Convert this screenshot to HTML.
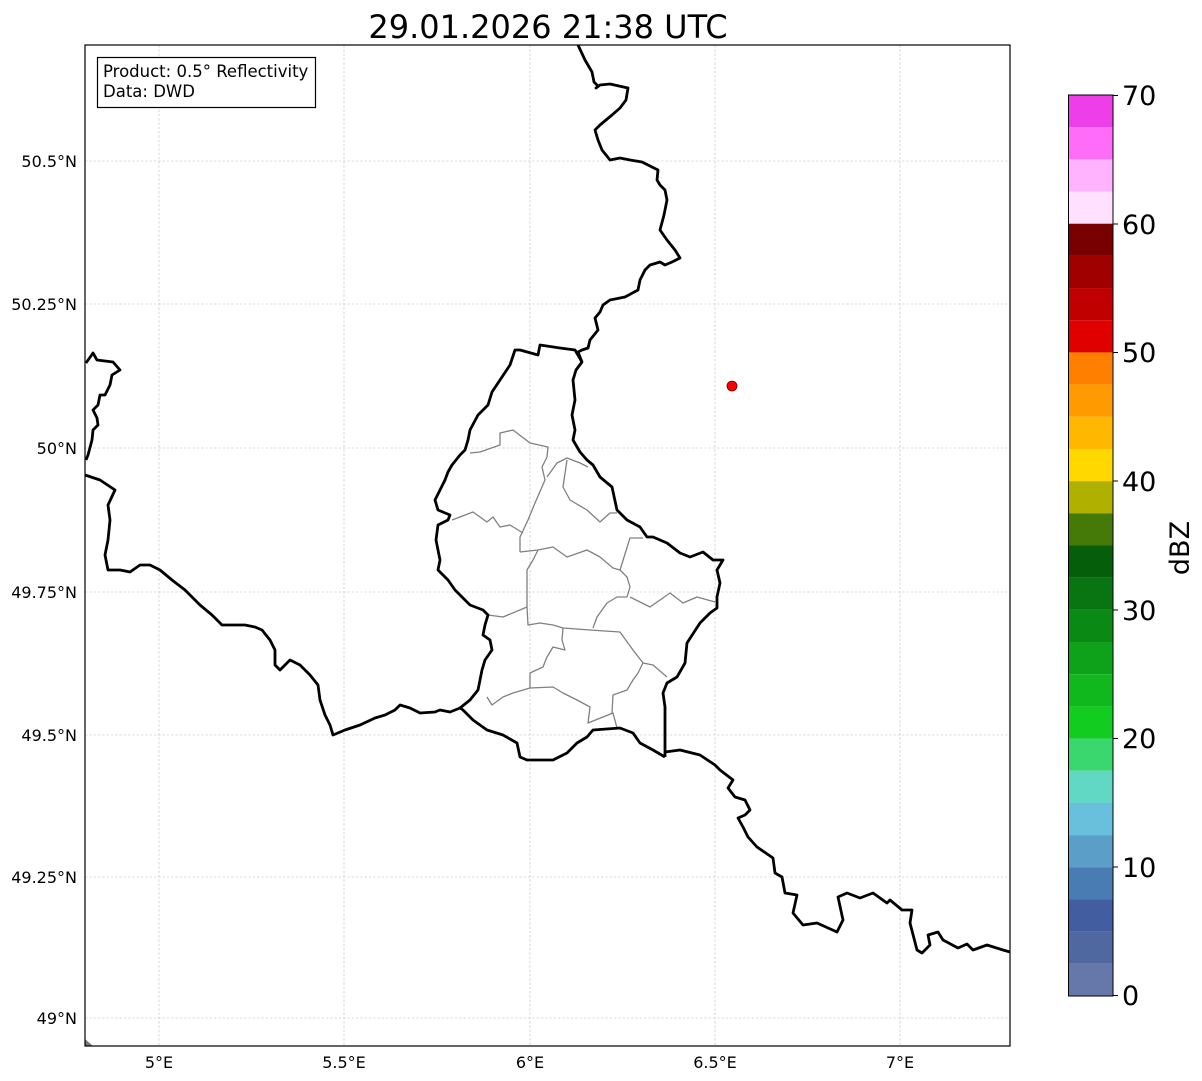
<!DOCTYPE html>
<html><head><meta charset="utf-8"><style>
html,body{margin:0;padding:0;background:#fff;}
svg{display:block;font-family:"DejaVu Sans","Liberation Sans",sans-serif;}
</style></head><body>
<svg width="1202" height="1081" viewBox="0 0 1202 1081" xmlns="http://www.w3.org/2000/svg">
<rect width="1202" height="1081" fill="#fff"/>
<text x="548" y="38" font-size="32" text-anchor="middle">29.01.2026 21:38 UTC</text>
<g stroke="#bdbdbd" stroke-width="0.6" stroke-dasharray="2.5,1.8">
<line x1="159" y1="45" x2="159" y2="1046"/><line x1="344" y1="45" x2="344" y2="1046"/>
<line x1="530" y1="45" x2="530" y2="1046"/><line x1="715" y1="45" x2="715" y2="1046"/>
<line x1="900" y1="45" x2="900" y2="1046"/>
<line x1="85" y1="161" x2="1010" y2="161"/><line x1="85" y1="304" x2="1010" y2="304"/>
<line x1="85" y1="448" x2="1010" y2="448"/><line x1="85" y1="592" x2="1010" y2="592"/>
<line x1="85" y1="735" x2="1010" y2="735"/><line x1="85" y1="877" x2="1010" y2="877"/>
<line x1="85" y1="1018" x2="1010" y2="1018"/>
</g>
<g fill="none" stroke="#808080" stroke-width="1.3" stroke-linejoin="round">
<polyline points="470,453 480,452 500,445 500,433 513,430 530,443 548,447 547,457 542,467 545,480 535,503 528,520 520,537 520,552"/>
<polyline points="452,520 473,512 487,522 493,517 500,527 510,525 523,533"/>
<polyline points="547,477 557,463 567,458 580,463 588,467"/>
<polyline points="567,460 563,487 570,500 587,510 600,522 610,513 617,513"/>
<polyline points="520,552 538,550 553,547 567,557 587,550 600,557 613,568 620,570 630,538 643,538"/>
<polyline points="620,570 627,577 630,587 627,597 617,597 607,603 597,617 593,628"/>
<polyline points="630,597 650,607 670,593 683,603 697,597 715,602"/>
<polyline points="538,550 533,560 527,570 527,583 527,607 528,625 540,623 553,625 563,628 590,630 620,632 633,650 643,663 653,665 667,677"/>
<polyline points="527,607 503,617 488,615"/>
<polyline points="563,628 562,640 565,650 553,647 547,657 543,667 530,673 530,688 513,693 503,697 492,705 487,697"/>
<polyline points="530,688 553,687 563,693 577,700 590,707 588,723 613,713 617,728"/>
<polyline points="612,713 613,695 627,690 633,680 638,673 643,663"/>
</g>
<g fill="none" stroke="#000" stroke-width="2.8" stroke-linejoin="round">
<polyline points="578,45 585,60 592,72 594,82 598,86 596,88 600,85 610,84 628,88 626,100 620,108 612,115 600,125 595,130 598,140 600,145 602,150 610,160 620,158 630,160 642,162 658,170 657,180 660,185 665,190 667,200 664,215 660,230 667,240 675,250 680,258 672,262 665,265 660,262 650,265 645,270 640,280 638,290 625,297 610,300 603,305 600,312 595,318 598,330 590,340 588,348 582,350 578,352 582,362 576,370 573,380 575,400 572,415 575,430 573,440 580,452 587,460 593,465 600,477 612,487 617,510 627,520 640,527 647,537 653,537 667,543 680,553 690,557 703,552 713,560 723,560 717,570 720,583 717,597 717,608 710,613 700,623 687,643 685,663 677,677 667,683 663,693 665,707 665,757"/>
<polyline points="665,752 680,750 700,755 715,765 720,770 733,780 728,788 735,797 745,800 750,810 745,815 738,818 743,827 748,837 757,847 773,858 775,873 782,877 785,893 797,895 793,913 803,925 817,923 837,932 843,920 838,897 847,893 860,898 873,893 887,903 890,900 902,910 912,910 910,923 917,950 922,953 930,945 928,935 938,932 943,940 958,948 967,944 973,950 987,945 1003,950 1010,952"/>
<polyline points="582,362 575,350 560,348 540,345 538,355 520,350 515,350 510,365 500,380 492,392 488,405 478,415 470,430 468,440 465,450 460,455 452,465 448,472 445,480 440,490 435,500 438,510 450,515 448,520 438,525 436,540 440,560 438,570 448,580 455,590 465,600 470,605 483,610 488,615 485,625 483,635 490,640 492,650 485,660 482,670 480,680 478,690 470,700 460,708 463,710 473,720 487,730 503,735 517,743 520,757 527,760 537,760 553,760 567,753 577,743 587,737 593,730 620,728 633,733 640,743 653,750 665,757"/>
<polyline points="460,708 450,712 440,710 435,712 420,713 410,708 400,705 395,710 385,715 375,718 360,725 345,730 333,735 330,725 325,715 320,700 318,685 310,675 300,665 290,660 280,670 275,665 275,650 270,640 262,630 255,627 245,625 235,625 222,625 212,615 200,605 185,590 172,580 160,570 150,565 140,565 130,572 120,570 108,570 105,555 108,540 110,520 108,505 115,490 100,480 85,475"/>
<polyline points="86,363 93,353 97,360 113,362 120,370 112,375 110,385 105,395 100,395 98,405 93,410 97,418 98,425 93,430 92,440 88,455 86,460"/>
</g>
<polygon points="85,1039 93,1046 85,1046" fill="#777"/>
<circle cx="732" cy="386" r="5" fill="#f00" stroke="#600" stroke-width="0.8"/>
<rect x="85" y="45" width="925" height="1001" fill="none" stroke="#000" stroke-width="1.2"/>
<rect x="97.5" y="57.5" width="218" height="50" fill="#fff" stroke="#000" stroke-width="1.2"/>
<text x="103" y="77" font-size="16.5">Product: 0.5° Reflectivity</text>
<text x="103" y="97" font-size="16.5">Data: DWD</text>
<g font-size="16" text-anchor="end">
<text x="77" y="167">50.5°N</text><text x="77" y="310">50.25°N</text>
<text x="77" y="454">50°N</text><text x="77" y="598">49.75°N</text>
<text x="77" y="741">49.5°N</text><text x="77" y="883">49.25°N</text>
<text x="77" y="1024">49°N</text>
</g>
<g font-size="16" text-anchor="middle">
<text x="159" y="1068">5°E</text><text x="344" y="1068">5.5°E</text>
<text x="530" y="1068">6°E</text><text x="715" y="1068">6.5°E</text>
<text x="900" y="1068">7°E</text>
</g>
<g>
<rect x="1068.5" y="95.00" width="44.5" height="32.2" fill="#ee3ee9"/>
<rect x="1068.5" y="127.18" width="44.5" height="32.2" fill="#ff6cf7"/>
<rect x="1068.5" y="159.36" width="44.5" height="32.2" fill="#ffb3ff"/>
<rect x="1068.5" y="191.54" width="44.5" height="32.2" fill="#ffe0ff"/>
<rect x="1068.5" y="223.71" width="44.5" height="32.2" fill="#780000"/>
<rect x="1068.5" y="255.89" width="44.5" height="32.2" fill="#a00000"/>
<rect x="1068.5" y="288.07" width="44.5" height="32.2" fill="#c00000"/>
<rect x="1068.5" y="320.25" width="44.5" height="32.2" fill="#e00000"/>
<rect x="1068.5" y="352.43" width="44.5" height="32.2" fill="#ff7f00"/>
<rect x="1068.5" y="384.61" width="44.5" height="32.2" fill="#ff9a00"/>
<rect x="1068.5" y="416.79" width="44.5" height="32.2" fill="#ffb700"/>
<rect x="1068.5" y="448.96" width="44.5" height="32.2" fill="#ffd800"/>
<rect x="1068.5" y="481.14" width="44.5" height="32.2" fill="#b0b000"/>
<rect x="1068.5" y="513.32" width="44.5" height="32.2" fill="#467a08"/>
<rect x="1068.5" y="545.50" width="44.5" height="32.2" fill="#055e0a"/>
<rect x="1068.5" y="577.68" width="44.5" height="32.2" fill="#087412"/>
<rect x="1068.5" y="609.86" width="44.5" height="32.2" fill="#0a8a14"/>
<rect x="1068.5" y="642.04" width="44.5" height="32.2" fill="#0da21a"/>
<rect x="1068.5" y="674.21" width="44.5" height="32.2" fill="#10b81e"/>
<rect x="1068.5" y="706.39" width="44.5" height="32.2" fill="#12cc20"/>
<rect x="1068.5" y="738.57" width="44.5" height="32.2" fill="#3ad66e"/>
<rect x="1068.5" y="770.75" width="44.5" height="32.2" fill="#60d8c4"/>
<rect x="1068.5" y="802.93" width="44.5" height="32.2" fill="#68c0dc"/>
<rect x="1068.5" y="835.11" width="44.5" height="32.2" fill="#5b9fc8"/>
<rect x="1068.5" y="867.29" width="44.5" height="32.2" fill="#4a7cb4"/>
<rect x="1068.5" y="899.46" width="44.5" height="32.2" fill="#425ea0"/>
<rect x="1068.5" y="931.64" width="44.5" height="32.2" fill="#5068a0"/>
<rect x="1068.5" y="963.82" width="44.5" height="32.18" fill="#6677aa"/>
</g>
<rect x="1068.5" y="95" width="44.5" height="901" fill="none" stroke="#000" stroke-width="1"/>
<g stroke="#000" stroke-width="1">
<line x1="1113" y1="95.5" x2="1118" y2="95.5"/><line x1="1113" y1="224" x2="1118" y2="224"/>
<line x1="1113" y1="352.5" x2="1118" y2="352.5"/><line x1="1113" y1="481" x2="1118" y2="481"/>
<line x1="1113" y1="610" x2="1118" y2="610"/><line x1="1113" y1="738.5" x2="1118" y2="738.5"/>
<line x1="1113" y1="867" x2="1118" y2="867"/><line x1="1113" y1="995.5" x2="1118" y2="995.5"/>
</g>
<g font-size="27">
<text x="1122" y="105">70</text><text x="1122" y="234">60</text>
<text x="1122" y="362">50</text><text x="1122" y="491">40</text>
<text x="1122" y="620">30</text><text x="1122" y="748">20</text>
<text x="1122" y="877">10</text><text x="1122" y="1005">0</text>
</g>
<text x="0" y="0" font-size="27" transform="translate(1189,548) rotate(-90)" text-anchor="middle">dBZ</text>
</svg>
</body></html>
